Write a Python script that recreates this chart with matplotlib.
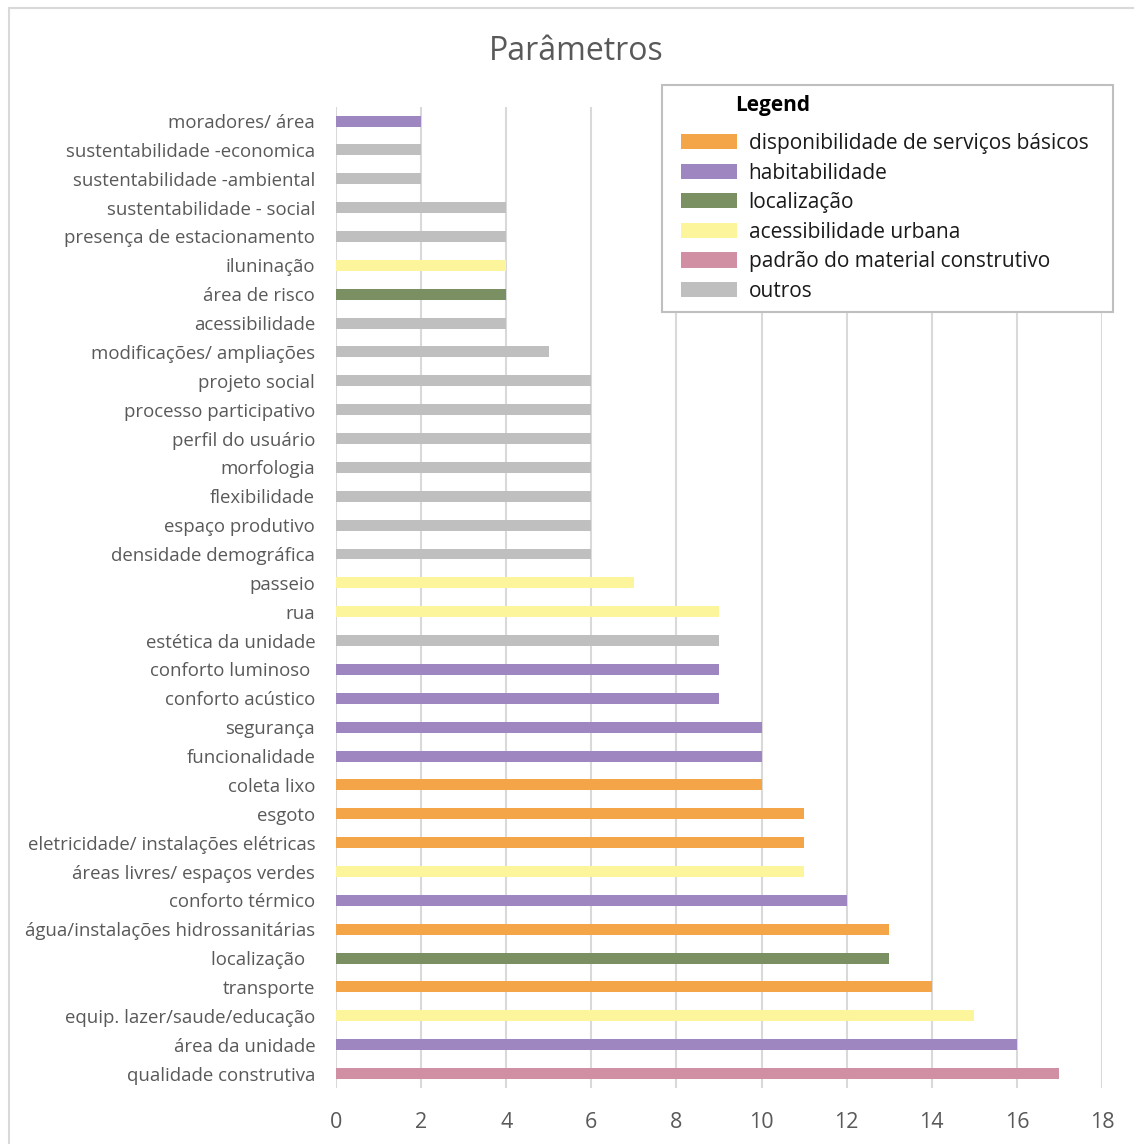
import matplotlib
matplotlib.use("Agg")
import matplotlib.pyplot as plt
from matplotlib.patches import Patch, Rectangle

plt.rcParams['font.family'] = ['Open Sans', 'DejaVu Sans']

# bottom to top
categories = [
    "qualidade construtiva", "área da unidade", "equip. lazer/saude/educação",
    "transporte", "localização  ", "água/instalações hidrossanitárias",
    "conforto térmico", "áreas livres/ espaços verdes",
    "eletricidade/ instalações elétricas", "esgoto", "coleta lixo",
    "funcionalidade", "segurança", "conforto acústico", "conforto luminoso ",
    "estética da unidade", "rua", "passeio", "densidade demográfica",
    "espaço produtivo", "flexibilidade", "morfologia", "perfil do usuário",
    "processo participativo", "projeto social", "modificações/ ampliações",
    "acessibilidade", "área de risco", "iluninação",
    "presença de estacionamento", "sustentabilidade - social",
    "sustentabilidade -ambiental", "sustentabilidade -economica",
    "moradores/ área",
]
values = [17, 16, 15, 14, 13, 13, 12, 11, 11, 11, 10, 10, 10, 9, 9, 9, 9, 7,
          6, 6, 6, 6, 6, 6, 6, 5, 4, 4, 4, 4, 4, 2, 2, 2]
groups = ["pad", "hab", "ace", "dis", "loc", "dis", "hab", "ace", "dis", "dis",
          "dis", "hab", "hab", "hab", "hab", "out", "ace", "ace", "out", "out",
          "out", "out", "out", "out", "out", "out", "out", "loc", "ace", "out",
          "out", "out", "out", "hab"]
group_keys = ["dis", "hab", "loc", "ace", "pad", "out"]
group_names = ["disponibilidade de serviços básicos", "habitabilidade",
               "localização", "acessibilidade urbana",
               "padrão do material construtivo", "outros"]
group_colors = {"dis": "#F4A548", "hab": "#9E86C1", "loc": "#7A8F62",
                "ace": "#FDF59C", "pad": "#D08FA3", "out": "#BFBFBF"}
xticks = [0, 2, 4, 6, 8, 10, 12, 14, 16, 18]

W, H = 1134, 1144
fig = plt.figure(figsize=(W / 100, H / 100), dpi=100)
# outer chart border (extends past right/bottom edges)
fig.patches.append(Rectangle((9 / W, -0.01), 1.2, (H - 8) / H + 0.01,
                             transform=fig.transFigure, fill=False,
                             edgecolor="#D9D9D9", linewidth=1.5))

ax = fig.add_axes([336 / W, 56 / H, (1102 - 336) / W, (1088 - 106.6) / H])
ypos = list(range(len(categories)))
ax.barh(ypos, values, height=0.38,
        color=[group_colors[g] for g in groups], zorder=3)
ax.set_ylim(-0.5, len(categories) - 0.5)
ax.set_xlim(0, 18)
ax.set_xticks(xticks)
ax.set_xticklabels([str(t) for t in xticks])
ax.set_yticks(ypos)
ax.set_yticklabels(categories)
ax.tick_params(axis='both', length=0, colors="#595959")
ax.tick_params(axis='y', pad=15, labelsize=13.4)
ax.tick_params(axis='x', pad=17, labelsize=15.5)
ax.grid(axis='x', color="#D9D9D9", linewidth=1.5, zorder=0)
ax.set_axisbelow(True)
for s in ax.spines.values():
    s.set_visible(False)

fig.text(576 / W, 1 - 52 / H, "Parâmetros", ha="center", va="center",
         fontsize=23, color="#595959")

# legend
fig.patches.append(Rectangle((662 / W, 1 - 312 / H), (1113 - 662) / W,
                             (312 - 85) / H, transform=fig.transFigure,
                             fill=True, facecolor="white",
                             edgecolor="#BFBFBF", linewidth=1.5, zorder=5))
fig.text(735 / W, 1 - 106 / H, "Legend", ha="left", va="center",
         fontsize=15, fontweight="bold", color="black", zorder=6)
handles = [Patch(facecolor=group_colors[k], edgecolor="none") for k in group_keys]
leg = fig.legend(handles, group_names,
                 loc="upper left", bbox_to_anchor=(681 / W, 1 - 133 / H),
                 fontsize=15, frameon=False,
                 handlelength=2.7, handleheight=0.75, labelspacing=0.41,
                 borderpad=0, handletextpad=0.55, borderaxespad=0)
leg.set_zorder(7)
for t in leg.get_texts():
    t.set_color("#1a1a1a")

fig.savefig("out.png", dpi=100, facecolor="white")
